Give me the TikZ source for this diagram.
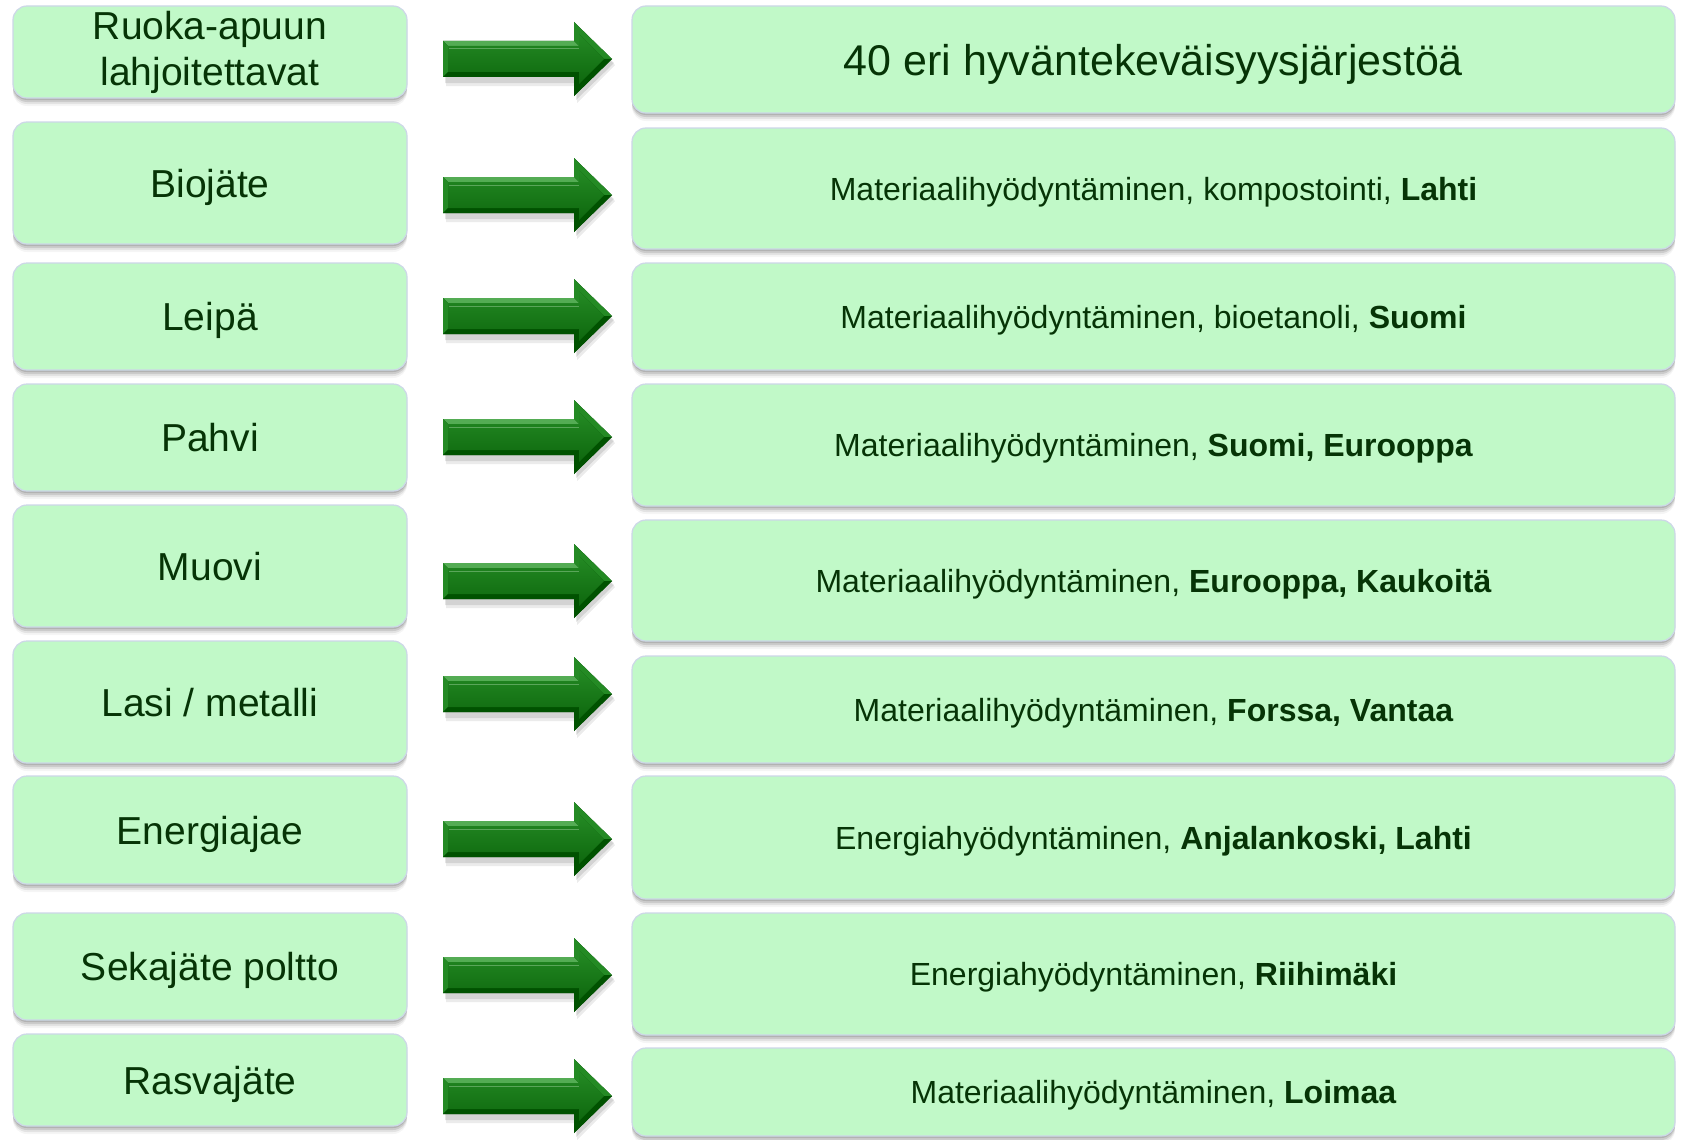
\documentclass[tikz,border=0pt]{standalone}
\usepackage{fontspec}
\setmainfont{Liberation Sans}
\usetikzlibrary{shadows}
\definecolor{boxfill}{RGB}{193,249,200}
\definecolor{boxline}{RGB}{205,215,232}
\definecolor{txtgreen}{RGB}{6,52,6}
\definecolor{arrmain}{RGB}{22,122,22}
\definecolor{arrtop}{RGB}{36,138,36}
\definecolor{arrbot}{RGB}{14,104,14}
\definecolor{arrlight}{RGB}{84,172,84}
\definecolor{arrdark}{RGB}{0,82,0}
\definecolor{arrdeep}{RGB}{0,64,0}
\tikzset{
  card/.style={rounded corners=14pt, fill=boxfill, draw=boxline, line width=1.2pt,
    inner sep=0pt, align=center, text=txtgreen,
    general shadow={fill=black,opacity=0.12,shadow yshift=-2pt},
    general shadow={fill=black,opacity=0.10,shadow yshift=-4pt},
    general shadow={fill=black,opacity=0.07,shadow yshift=-6pt},
    general shadow={fill=black,opacity=0.04,shadow yshift=-8pt}},
  lcardbase/.style={card, minimum width=394pt, font=\fontsize{39}{46}\selectfont},
  lcard/.style={lcardbase, text height=34pt, text depth=6pt},
  rcard/.style={card, minimum width=1043pt, font=\fontsize{32}{38}\selectfont,
    text height=29pt, text depth=6pt},
  rcardbig/.style={card, minimum width=1043pt, font=\fontsize{43}{50}\selectfont,
    text height=37pt, text depth=6pt},
}
% block arrow: #1 = name of anchor coordinate, #2 = vertical centre
\newcommand\blockarrow[2]{%
  \coordinate (#1) at (443,#2);
  \begin{scope}[shift={(#1)}]
    \fill[black,opacity=0.10] (2,-14) -- (133,-14) -- (133,-33) -- (171,4) -- (133,41) -- (133,24) -- (2,24) -- cycle;
    \fill[black,opacity=0.08] (3,-12) -- (134,-12) -- (134,-30) -- (172,6) -- (134,44) -- (134,27) -- (3,27) -- cycle;
    \fill[arrdeep] (0,-18) -- (131,-18) -- (131,-37) -- (169,0) -- (131,37) -- (131,18) -- (0,18) -- cycle;
    % top facets
    \fill[arrlight] (0,-18) -- (131,-18) -- (136,-13) -- (5,-13) -- cycle;
    \fill[arrtop] (131,-18) -- (131,-37) -- (169,0) -- (161,0) -- (136,-25) -- (136,-13) -- cycle;
    % left facet
    \fill[arrtop] (0,-18) -- (5,-13) -- (5,13) -- (0,18) -- cycle;
    % bottom facets
    \fill[arrdark] (0,18) -- (5,13) -- (136,13) -- (131,18) -- cycle;
    \fill[arrdark] (131,18) -- (136,13) -- (136,25) -- (161,0) -- (169,0) -- (131,37) -- cycle;
    % face
    \shade[top color=arrtop, bottom color=arrbot]
      (5,-13) -- (136,-13) -- (136,-25) -- (161,0) -- (136,25) -- (136,13) -- (5,13) -- cycle;
    \draw[arrlight!60!white, line width=1pt, opacity=0.5] (6,-10) -- (136,-10);
  \end{scope}
}
\begin{document}
\begin{tikzpicture}[x=1pt,y=-1pt]
\useasboundingbox[fill=white] (0,0) rectangle (1681,1140);

% left column
\node[lcardbase, minimum height=92pt] (l1) at (210,52) {Ruoka-apuun\\lahjoitettavat};
\node[lcard, minimum height=122pt] (l2) at (210,183) {Biojäte};
\node[lcard, minimum height=107pt] (l3) at (210,316.5) {Leipä};
\node[lcard, minimum height=107pt] (l4) at (210,437.5) {Pahvi};
\node[lcard, minimum height=122pt] (l5) at (210,566) {Muovi};
\node[lcard, minimum height=122pt] (l6) at (210,702) {Lasi / metalli};
\node[lcard, minimum height=108pt] (l7) at (210,830) {Energiajae};
\node[lcard, minimum height=107pt] (l8) at (210,966.5) {Sekajäte poltto};
\node[lcard, minimum height=92pt] (l9) at (210,1080) {Rasvajäte};

% right column
\node[rcardbig, minimum height=107pt] (r1) at (1153.5,59.5) {40 eri hyväntekeväisyysjärjestöä};
\node[rcard, minimum height=121pt] (r2) at (1153.5,188.5) {Materiaalihyödyntäminen, kompostointi, \textbf{Lahti}};
\node[rcard, minimum height=107pt] (r3) at (1153.5,316.5) {Materiaalihyödyntäminen, bioetanoli, \textbf{Suomi}};
\node[rcard, minimum height=122pt] (r4) at (1153.5,445) {Materiaalihyödyntäminen, \textbf{Suomi, Eurooppa}};
\node[rcard, minimum height=121pt] (r5) at (1153.5,580.5) {Materiaalihyödyntäminen, \textbf{Eurooppa, Kaukoitä}};
\node[rcard, minimum height=107pt] (r6) at (1153.5,709.5) {Materiaalihyödyntäminen, \textbf{Forssa, Vantaa}};
\node[rcard, minimum height=123pt] (r7) at (1153.5,837.5) {Energiahyödyntäminen, \textbf{Anjalankoski, Lahti}};
\node[rcard, minimum height=122pt] (r8) at (1153.5,974) {Energiahyödyntäminen, \textbf{Riihimäki}};
\node[rcard, minimum height=88pt] (r9) at (1153.5,1092) {Materiaalihyödyntäminen, \textbf{Loimaa}};

% arrows
\blockarrow{a1}{59}
\blockarrow{a2}{195}
\blockarrow{a3}{316}
\blockarrow{a4}{437}
\blockarrow{a5}{581}
\blockarrow{a6}{694}
\blockarrow{a7}{839}
\blockarrow{a8}{975}
\blockarrow{a9}{1096}
\end{tikzpicture}
\end{document}
